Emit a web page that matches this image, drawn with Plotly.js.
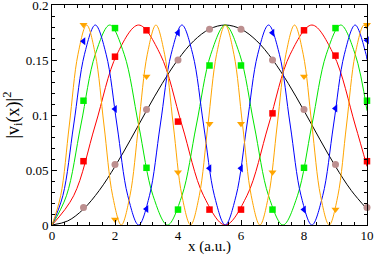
<!DOCTYPE html>
<html>
<head>
<meta charset="utf-8">
<script src="https://cdn.plot.ly/plotly-3.0.1.min.js"></script>
<style>
html,body{margin:0;padding:0;background:#fff;}
#chart{width:374px;height:255px;}
</style>
</head>
<body>
<div id="chart"></div>
<script>
// Sample points at integer x (markers)
const xMarks = [1, 2, 3, 4, 5, 6, 7, 8, 9, 10];
const v1Marks = [0.016, 0.055, 0.105, 0.150, 0.178, 0.178, 0.150, 0.105, 0.055, 0.016];
const v2Marks = [0.058, 0.153, 0.177, 0.094, 0.014, 0.014, 0.1015, 0.177, 0.154, 0.058];
const v3Marks = [0.113, 0.179, 0.052, 0.014, 0.145, 0.145, 0.014, 0.052, 0.179, 0.113];
const v4Marks = [0.167, 0.1055, 0.0146, 0.1747, 0.0515, 0.0515, 0.1747, 0.014, 0.106, 0.168];
const v5Marks = [0.182, 0.005, 0.135, 0.048, 0.092, 0.092, 0.048, 0.135, 0.014, 0.182];

// Tick labels
const xTicks = [0, 2, 4, 6, 8, 10];
const yTicks = [0, 0.05, 0.1, 0.15, 0.2];
const yTickText = ['0', '0.05', '0.1', '0.15', '0.2'];

// Continuous curves
const xCurve1 = [0,0.5,1,1.5,2,2.5,3,3.5,4,4.5,5,5.5,6,6.5,7,7.5,8,8.5,9,9.5,10];
const yCurve1 = [0,0.0037,0.0145,0.0314,0.0532,0.078,0.1039,0.1287,0.1504,0.1674,0.1781,0.1818,0.1781,0.1674,0.1504,0.1287,0.1039,0.078,0.0532,0.0314,0.0145];

const xCurve2 = [0,0.6875,1.375,2.0625,2.75,3.4375,4.125,4.8125,5.5,6.1875,6.875,7.5625,8.25,8.9375,9.625,10];
const yCurve2 = [0,0.0266,0.0909,0.1552,0.1818,0.1552,0.0909,0.0266,0,0.0266,0.0909,0.1552,0.1818,0.1552,0.0909,0.0532];

const xCurve3 = [0,0.4583,0.9167,1.375,1.8333,2.2917,2.75,3.2083,3.6667,4.125,4.5833,5.0417,5.5,5.9583,6.4167,6.875,7.3333,7.7917,8.25,8.7083,9.1667,9.625,10];
const yCurve3 = [0,0.0266,0.0909,0.1552,0.1818,0.1552,0.0909,0.0266,0,0.0266,0.0909,0.1552,0.1818,0.1552,0.0909,0.0266,0,0.0266,0.0909,0.1552,0.1818,0.1552,0.1039];

const xCurve4 = [0,0.3438,0.6875,1.0313,1.375,1.7188,2.0625,2.4063,2.75,3.0938,3.4375,3.7813,4.125,4.4688,4.8125,5.1563,5.5,5.8438,6.1875,6.5313,6.875,7.2188,7.5625,7.9063,8.25,8.5938,8.9375,9.2813,9.625,9.9688,10];
const yCurve4 = [0,0.0266,0.0909,0.1552,0.1818,0.1552,0.0909,0.0266,0,0.0266,0.0909,0.1552,0.1818,0.1552,0.0909,0.0266,0,0.0266,0.0909,0.1552,0.1818,0.1552,0.0909,0.0266,0,0.0266,0.0909,0.1552,0.1818,0.1552,0.1504];

const xCurve5 = [0,0.275,0.55,0.825,1.1,1.375,1.65,1.925,2.2,2.475,2.75,3.025,3.3,3.575,3.85,4.125,4.4,4.675,4.95,5.225,5.5,5.775,6.05,6.325,6.6,6.875,7.15,7.425,7.7,7.975,8.25,8.525,8.8,9.075,9.35,9.625,9.9,10];
const yCurve5 = [0,0.0266,0.0909,0.1552,0.1818,0.1552,0.0909,0.0266,0,0.0266,0.0909,0.1552,0.1818,0.1552,0.0909,0.0266,0,0.0266,0.0909,0.1552,0.1818,0.1552,0.0909,0.0266,0,0.0266,0.0909,0.1552,0.1818,0.1552,0.0909,0.0266,0,0.0266,0.0909,0.1552,0.1818,0.1781];

const curveColors = ['#000000', '#ff0000', '#00e600', '#0000ff', '#ffa500'];
const markColors = ['#bc8f8f', '#ff0000', '#00f000', '#0000ff', '#ffa500'];
const markSymbols = ['circle', 'square', 'square', 'triangle-left', 'triangle-down'];
const markSizes = [7, 6.5, 6.5, 7, 7];

const curvesX = [xCurve1, xCurve2, xCurve3, xCurve4, xCurve5];
const curvesY = [yCurve1, yCurve2, yCurve3, yCurve4, yCurve5];
const marksY = [v1Marks, v2Marks, v3Marks, v4Marks, v5Marks];

const FONT = "'Liberation Serif', 'Times New Roman', serif";

const traces = [];
for (let i = 0; i < 5; i++) {
  traces.push({
    x: curvesX[i], y: curvesY[i], type: 'scatter', mode: 'lines',
    line: {color: curveColors[i], width: 1, shape: 'spline', smoothing: 1},
    hoverinfo: 'skip', showlegend: false
  });
}
for (let i = 0; i < 5; i++) {
  traces.push({
    x: xMarks, y: marksY[i], type: 'scatter', mode: 'markers',
    marker: {symbol: markSymbols[i], color: markColors[i], size: markSizes[i], line: {width: 0}},
    cliponaxis: false, showlegend: false
  });
}

const axisCommon = {
  showline: true, linecolor: '#000', linewidth: 1, mirror: 'allticks',
  ticks: 'inside', tickcolor: '#000', ticklen: 5, tickwidth: 1,
  showgrid: false, zeroline: false, ticklabeloverflow: 'allow',
  tickfont: {family: FONT, size: 13, color: '#000'}
};

const layout = {
  width: 374, height: 255,
  margin: {l: 52, r: 7, t: 5, b: 30},
  paper_bgcolor: '#fff', plot_bgcolor: '#fff',
  font: {family: FONT, color: '#000'},
  showlegend: false,
  xaxis: Object.assign({}, axisCommon, {
    range: [0, 10], tickmode: 'array', tickvals: xTicks, ticktext: xTicks.map(String),
    ticklabelstandoff: -2,
    minor: {tickmode: 'linear', tick0: 0, dtick: 0.4, ticks: 'inside', ticklen: 3, tickcolor: '#000', showgrid: false},
    title: {text: 'x (a.u.)', font: {family: FONT, size: 15, color: '#000'}, standoff: 4}
  }),
  yaxis: Object.assign({}, axisCommon, {
    range: [0, 0.2], tickmode: 'array', tickvals: yTicks, ticktext: yTickText,
    minor: {tickmode: 'linear', tick0: 0, dtick: 0.01, ticks: 'inside', ticklen: 3, tickcolor: '#000', showgrid: false},
    title: {text: '|v<sub>i</sub>(x)|<sup>2</sup>', font: {family: FONT, size: 18, color: '#000'}, standoff: 3}
  })
};

Plotly.newPlot('chart', traces, layout, {displayModeBar: false, staticPlot: true});
</script>
</body>
</html>
